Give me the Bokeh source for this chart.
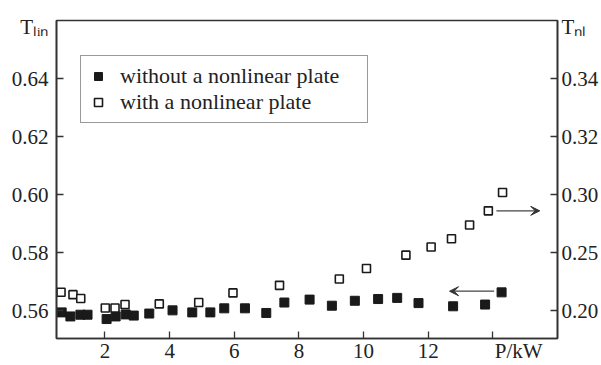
from bokeh.plotting import figure
from bokeh.models import (Range1d, LinearAxis, FixedTicker, Legend, LegendItem,
                          Arrow, VeeHead)
from bokeh.embed import file_html
from bokeh.resources import INLINE

# ---- data ----
p_lin = [0.66, 0.93, 1.24, 1.46, 2.05, 2.33, 2.64, 2.89, 3.37, 4.09, 4.70, 5.26,
         5.69, 6.33, 6.99, 7.55, 8.33, 9.02, 9.73, 10.45, 11.04, 11.70, 12.77,
         13.76, 14.27]
t_lin = [0.5594, 0.5580, 0.5586, 0.5586, 0.5571, 0.5580, 0.5587, 0.5583, 0.5590,
         0.5601, 0.5594, 0.5594, 0.5608, 0.5608, 0.5592, 0.5628, 0.5638, 0.5617,
         0.5634, 0.5640, 0.5644, 0.5626, 0.5615, 0.5621, 0.5663]

p_nl = [0.64, 1.01, 1.25, 2.01, 2.31, 2.62, 3.68, 4.90, 5.96, 7.40, 9.25, 10.09,
        11.31, 12.09, 12.72, 13.28, 13.86, 14.30]
t_nl = [0.2158, 0.2138, 0.2105, 0.2023, 0.2023, 0.2053, 0.2058, 0.2070, 0.2153,
        0.2218, 0.2273, 0.2363, 0.2478, 0.2548, 0.2620, 0.2738, 0.2860, 0.3018]

# tick marks
x_ticks = [2, 4, 6, 8, 10, 12, 14]
left_ticks = [0.56, 0.58, 0.60, 0.62, 0.64]
right_ticks = [0.20, 0.25, 0.30, 0.35, 0.40]
# tick labels (value -> text); the axis names sit in the tick-label columns
x_label_pos = [2, 4, 6, 8, 10, 12, 14.8]
x_label_txt = ["2", "4", "6", "8", "10", "12", "P/kW"]
left_label_pos = [0.56, 0.58, 0.60, 0.62, 0.64, 0.6576]
left_label_txt = ["0.56", "0.58", "0.60", "0.62", "0.64", "Tₗᵢₙ"]
right_label_pos = [0.20, 0.25, 0.30, 0.35, 0.40, 0.444]
right_label_txt = ["0.20", "0.25", "0.30", "0.32", "0.34", "Tₙₗ"]

X0, X1 = 0.5, 16.0
Y0, Y1 = 0.5504, 0.66

SERIF = "Liberation Serif"
INK = "#222222"
AX = "#333333"
FS = "21px"

p = figure(width=601, height=365, output_backend="svg", toolbar_location=None,
           x_range=Range1d(X0, X1), y_range=Range1d(Y0, Y1),
           min_border_left=56, min_border_right=0, min_border_top=20,
           min_border_bottom=20, background_fill_color="white",
           border_fill_color="white")
p.extra_y_ranges = {"right": Range1d(0.176, 0.45)}
p.grid.visible = False
p.outline_line_color = AX
p.outline_line_width = 1.6

def style_axis(ax, label_pos, label_txt, marks, standoff):
    ax.ticker = FixedTicker(ticks=label_pos, minor_ticks=marks)
    ax.major_label_overrides = dict(zip(label_pos, label_txt))
    ax.axis_line_color = AX
    ax.axis_line_width = 1.6
    ax.major_tick_line_color = None
    ax.minor_tick_line_color = AX
    ax.minor_tick_line_width = 1.3
    ax.minor_tick_in = 7
    ax.minor_tick_out = 0
    ax.major_tick_in = 0
    ax.major_tick_out = 0
    ax.major_label_text_font = SERIF
    ax.major_label_text_font_size = FS
    ax.major_label_text_color = INK
    ax.major_label_text_line_height = 1.0
    ax.major_label_standoff = standoff
    ax.axis_label_standoff = 0

style_axis(p.xaxis[0], x_label_pos, x_label_txt, x_ticks, 0)
style_axis(p.yaxis[0], left_label_pos, left_label_txt, left_ticks, 8)

ra = LinearAxis(y_range_name="right")
style_axis(ra, right_label_pos, right_label_txt, right_ticks, 4)
p.add_layout(ra, "right")

r1 = p.scatter(p_lin, t_lin, marker="square", size=9, fill_color="#1a1a1a",
               line_color="#1a1a1a")
r2 = p.scatter(p_nl, t_nl, marker="square", size=8, fill_color="white",
               line_color="#1a1a1a", line_width=1.6, y_range_name="right")

legend = Legend(items=[LegendItem(label="without a nonlinear plate", renderers=[r1]),
                       LegendItem(label="with a nonlinear plate", renderers=[r2])],
                location=(24, 215), label_text_font=SERIF,
                label_text_font_size="22px", label_text_color=INK,
                border_line_color=AX, border_line_width=1.4,
                padding=7, spacing=0, label_standoff=12, glyph_width=20,
                glyph_height=20, label_height=20, label_width=240, margin=0,
                background_fill_alpha=1.0)
p.add_layout(legend)

# arrows indicating which axis each series belongs to
p.add_layout(Arrow(end=VeeHead(size=9, fill_color=AX, line_color=AX),
                   x_start=14.04, y_start=0.5667, x_end=12.66, y_end=0.5667,
                   line_color="#444444", line_width=1.2))
p.add_layout(Arrow(end=VeeHead(size=9, fill_color=AX, line_color=AX),
                   x_start=14.11, y_start=0.5944, x_end=15.45, y_end=0.5944,
                   line_color="#444444", line_width=1.2))

open("out.html", "w").write(file_html(p, INLINE))
